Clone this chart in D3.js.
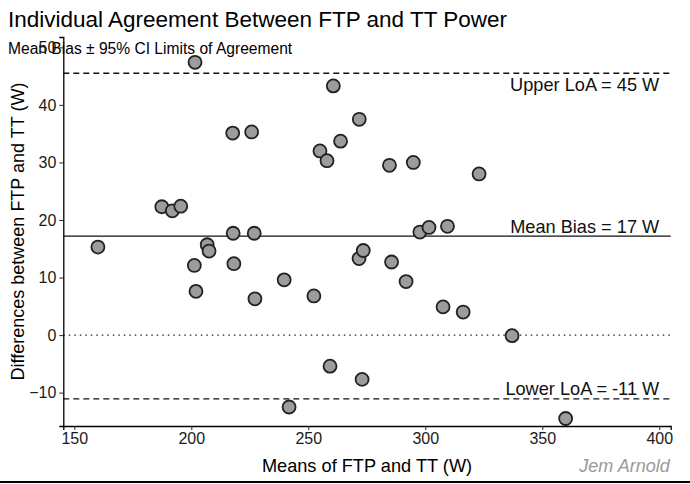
<!DOCTYPE html>
<html><head><meta charset="utf-8">
<script src="https://cdn.jsdelivr.net/npm/d3@7"></script>
<style>body{margin:0;background:#fff}svg{display:block}text{font-family:"Liberation Sans",Arial,sans-serif}</style>
</head><body>
<script>
const meanPower = [160.1,187.4,191.9,195.5,201.6,201.3,202.0,206.8,207.6,217.7,217.9,218.2,225.8,226.9,227.2,239.7,241.8,252.4,255.0,258.0,259.3,260.7,263.8,271.8,271.7,273.5,273.0,284.7,285.6,291.8,294.9,297.7,301.6,309.5,307.6,316.2,323.0,337.1,360.0];
const diffPower = [15.3,22.3,21.6,22.4,47.4,12.1,7.6,15.7,14.6,35.1,17.7,12.4,35.3,17.7,6.3,9.6,-12.5,6.8,32.0,30.3,-5.4,43.3,33.7,37.5,13.3,14.7,-7.7,29.5,12.7,9.3,30.0,17.9,18.7,18.9,4.9,4.0,28.0,-0.1,-14.5];
const refLines = [
  {name:"Upper LoA", value:45.5, label:"Upper LoA = 45 W", dash:"6,4", below:true},
  {name:"Mean Bias", value:17.2, label:"Mean Bias = 17 W", dash:null, below:false},
  {name:"Lower LoA", value:-11.1, label:"Lower LoA = -11 W", dash:"6,4", below:false}
];
const xTicks = [150,200,250,300,350,400];
const yTicks = [-10,0,10,20,30,40,50];

const W=690,H=484;
const svg=d3.select("body").append("svg").attr("width",W).attr("height",H);
const L=63.3,R=670.7,T=37,B=426;
const x=d3.scaleLinear().domain([145.3,404.9]).range([L,R]);
const y=d3.scaleLinear().domain([-15.8,51.8]).range([B,T]);

// title
svg.append("text").attr("x",8).attr("y",27).attr("font-size",22.5).attr("fill","#000").text("Individual Agreement Between FTP and TT Power");
svg.append("text").attr("x",8).attr("y",54).attr("font-size",15.6).attr("fill","#000").text("Mean Bias ± 95% CI Limits of Agreement");

// zero dotted
svg.append("line").attr("x1",L).attr("x2",R).attr("y1",y(0)).attr("y2",y(0))
  .attr("stroke","#222").attr("stroke-width",1.3).attr("stroke-dasharray","1.5,4");
// reference lines
refLines.forEach(r=>{
  const ln=svg.append("line").attr("x1",L).attr("x2",R).attr("y1",y(r.value)).attr("y2",y(r.value))
    .attr("stroke","#111").attr("stroke-width",1.3);
  if(r.dash) ln.attr("stroke-dasharray",r.dash);
  svg.append("text").attr("x",x(400)).attr("y",r.below? y(r.value)+17.5 : y(r.value)-3.5)
    .attr("text-anchor","end").attr("font-size",18.2).attr("fill","#111").text(r.label);
});

// points
svg.append("g").selectAll("circle").data(meanPower.map((m,i)=>[m,diffPower[i]])).join("circle")
  .attr("cx",d=>x(d[0])).attr("cy",d=>y(d[1])).attr("r",6.5)
  .attr("fill","#9c9c9c").attr("stroke","#222").attr("stroke-width",1.8);

// axes
const xa=svg.append("g").attr("transform",`translate(0,${B})`)
  .call(d3.axisBottom(x).tickValues(xTicks).tickSize(4).tickPadding(3).tickFormat(d3.format("d")));
const ya=svg.append("g").attr("transform",`translate(${L},0)`)
  .call(d3.axisLeft(y).tickValues(yTicks).tickSize(4).tickPadding(3).tickFormat(d3.format("d")));
[xa,ya].forEach(a=>{
  a.select(".domain").attr("stroke","#000").attr("stroke-width",1.3);
  a.selectAll(".tick line").attr("stroke","#333").attr("stroke-width",1.1);
  a.selectAll(".tick text").attr("font-size",16).attr("fill","#1a1a1a").attr("font-family","Liberation Sans, Arial, sans-serif");
});

// axis titles
svg.append("text").attr("x",(L+R)/2).attr("y",472).attr("text-anchor","middle").attr("font-size",18.2).attr("fill","#000").text("Means of FTP and TT (W)");
svg.append("text").attr("transform",`translate(24,${(T+B)/2}) rotate(-90)`).attr("text-anchor","middle").attr("font-size",18).attr("fill","#000").text("Differences between FTP and TT (W)");
svg.append("text").attr("x",R-1).attr("y",472).attr("text-anchor","end").attr("font-size",18).attr("font-style","italic").attr("fill","#9a9a9a").text("Jem Arnold");

// bottom border
svg.append("line").attr("x1",0).attr("x2",W).attr("y1",482).attr("y2",482).attr("stroke","#000").attr("stroke-width",2);
</script>
</body></html>
